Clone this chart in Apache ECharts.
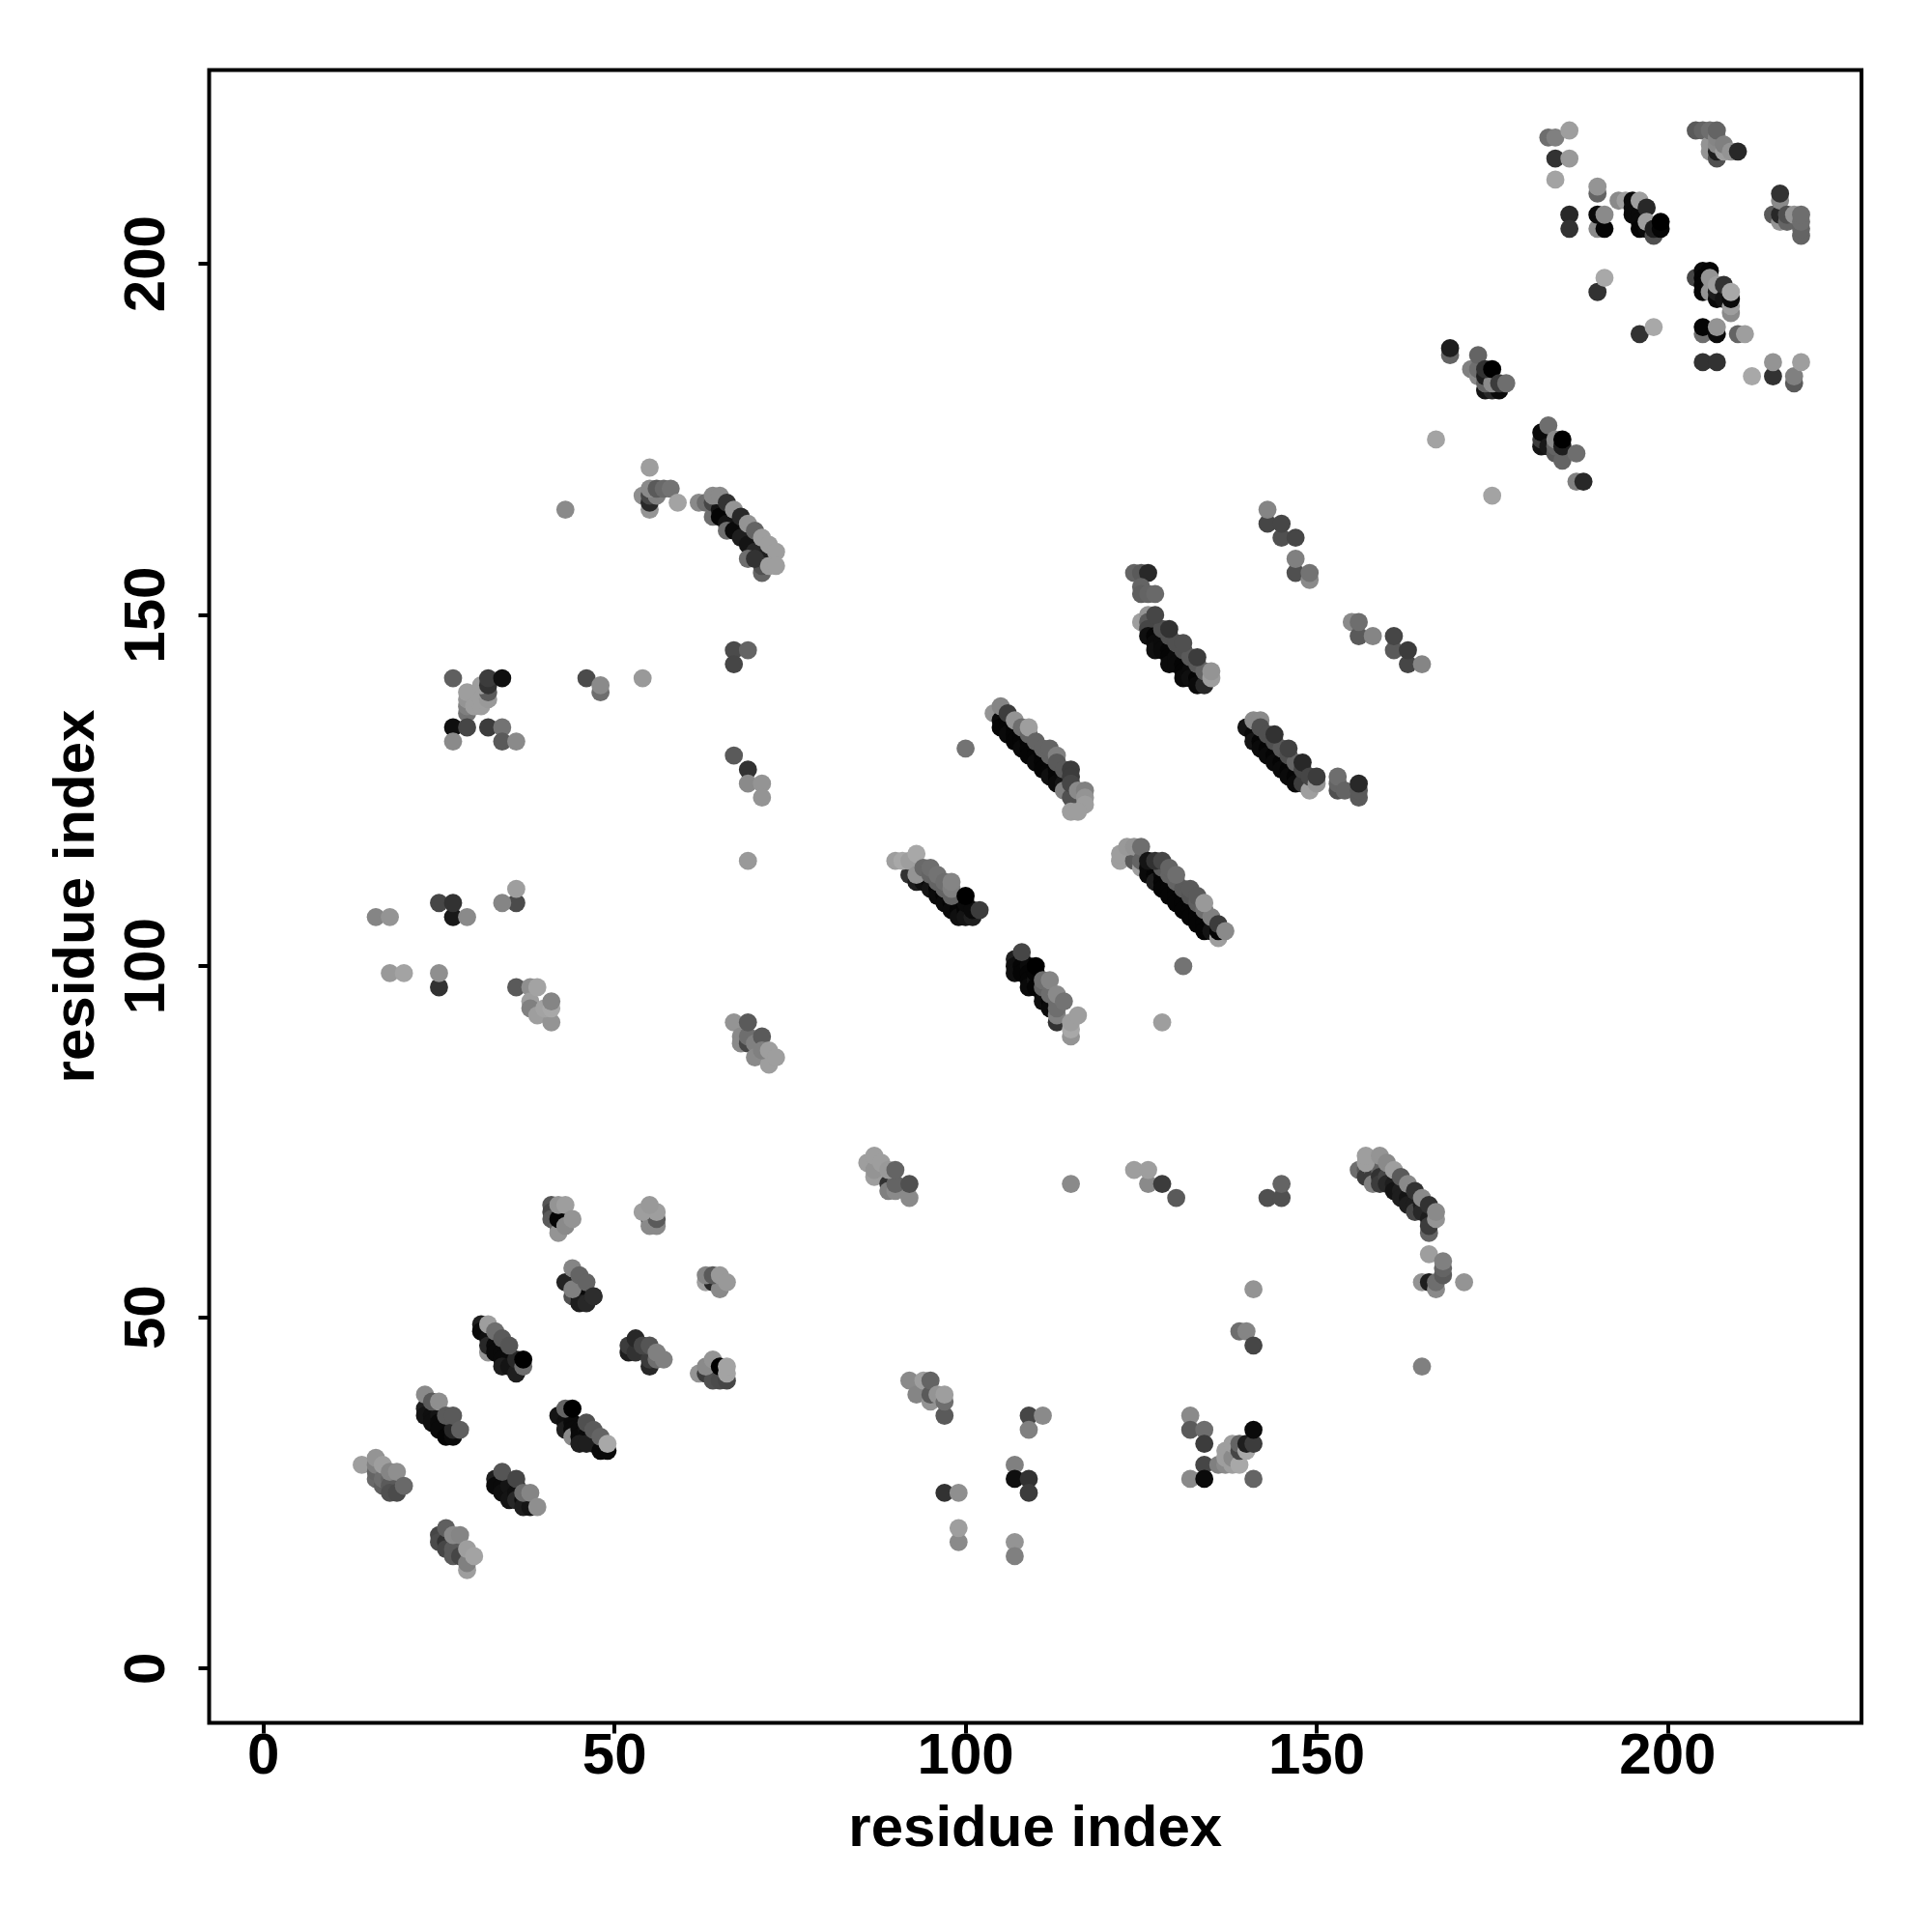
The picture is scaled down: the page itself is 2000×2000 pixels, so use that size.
<!DOCTYPE html>
<html><head><meta charset="utf-8">
<style>html,body{margin:0;padding:0;background:#fff}#c{width:2000px;height:2000px}</style>
<script src="https://cdn.jsdelivr.net/npm/echarts@6/dist/echarts.min.js"></script>
</head><body><div id="c"></div>
<script>
// each entry: [residue i, residue j, grey level]
const blockA=[[14,29,150],[16,27,105],[16,28,100],[16,29,120],[17,26,95],[17,27,110],[18,27,100],[18,26,90],[18,25,80],[19,25,75],[16,30,140],[17,29,150],[18,28,125],[19,28,135],[20,26,105]];
const blockB=[[25,19,70],[25,18,75],[26,18,50],[26,17,70],[27,17,90],[27,16,90],[28,16,70],[29,14,150],[29,15,120],[26,20,95],[27,19,130],[28,19,125],[29,17,150],[30,16,155]];
const blockC=[[23,37,30],[23,36,20],[24,36,15],[24,35,15],[25,36,20],[25,35,10],[26,35,15],[26,34,10],[25,34,10],[26,33,5],[27,33,10],[27,34,40],[23,39,130],[24,38,90],[25,38,135],[26,36,90],[27,36,90],[28,34,95]];
const blockD=[[31,49,30],[31,48,10],[32,47,15],[32,45,140],[32,46,40],[33,46,10],[33,45,10],[34,45,10],[34,44,10],[35,44,10],[34,43,30],[35,43,20],[36,42,30],[36,44,40],[37,43,110],[32,49,150],[33,48,110],[34,47,90],[35,46,85],[37,44,0]];
const blockE=[[42,36,20],[43,35,15],[43,34,30],[44,35,10],[44,34,10],[44,33,130],[45,34,10],[45,33,10],[46,34,15],[46,33,10],[47,33,10],[47,32,15],[45,32,30],[46,32,30],[48,31,10],[49,31,10],[43,37,100],[44,37,0],[46,35,80],[47,34,90],[48,33,100],[49,32,160]];
const blockF=[[33,27,30],[33,26,10],[34,26,10],[34,25,15],[35,25,15],[35,26,20],[36,26,20],[35,24,20],[36,25,15],[36,24,40],[37,24,15],[37,23,30],[38,23,20],[34,28,85],[36,27,70],[37,25,110],[38,25,125],[39,23,135]];
const blockG=[[43,55,35],[44,53,80],[45,53,10],[45,52,30],[46,52,40],[47,53,45],[44,54,120],[44,57,125],[45,56,100],[46,55,100],[47,53,45]];
const blockH=[[41,66,85],[41,65,70],[41,64,90],[42,63,100],[42,62,140],[42,64,5],[43,63,130],[42,66,140],[43,66,150],[44,64,140]];
const blockI=[[55,64,50],[55,63,130],[56,63,130],[56,64,90],[54,65,150],[56,65,150],[55,66,145]];
const blockJ=[[63,55,150],[64,55,40],[65,54,130],[63,56,125],[64,56,90],[65,56,145],[66,55,145]];
const blockK=[[52,45,30],[52,46,60],[53,45,50],[53,47,40],[55,43,40],[55,44,60],[54,46,70],[55,46,85],[56,44,110],[56,45,120],[57,44,120]];
const blockL=[[62,42,140],[63,42,60],[64,41,80],[65,41,75],[66,41,70],[63,43,130],[64,44,140],[65,43,0],[66,42,155],[66,43,155]];
const blockM=[[43,165,130],[55,171,150],[54,167,135],[55,165,140],[55,166,40],[55,167,70],[56,167,120],[55,168,130],[56,168,90],[57,168,105],[58,168,115],[59,166,155]];
const blockN=[[62,166,130],[63,166,110],[64,164,110],[64,166,70],[65,165,20],[65,164,5],[66,163,20],[66,162,110],[67,162,10],[68,161,30],[69,160,20],[70,159,40],[71,158,30],[71,156,100],[71,157,80],[69,158,110],[70,158,50],[64,167,130],[65,167,130],[66,166,50],[67,165,140],[68,164,40],[69,163,140],[70,162,100],[71,161,150],[72,160,150],[73,159,150],[72,157,150],[73,157,150]];
const blockO=[[67,145,75],[69,145,100],[67,143,70],[67,130,90],[69,128,50],[69,126,130],[71,126,140],[71,124,140],[69,115,145]];
const blockP=[[27,141,95],[29,136,115],[29,137,120],[30,138,50],[29,138,140],[29,139,150],[30,137,150],[31,137,150],[31,138,150],[32,138,145],[32,139,90],[31,140,150],[32,140,50],[32,141,60],[34,141,15],[27,134,15],[29,134,70],[32,134,60],[34,134,115],[27,132,130],[34,132,90],[36,132,130]];
const blockQ=[[46,141,75],[48,139,110],[48,140,130],[54,141,145],[36,109,75],[36,111,150],[34,109,125],[25,109,70],[27,107,25],[27,109,50],[29,107,130],[16,107,125],[18,107,140],[18,99,145],[20,99,155],[25,97,50],[25,99,135]];
const blockR=[[36,97,90],[38,97,135],[38,95,150],[38,94,120],[39,93,150],[41,92,140],[40,94,155],[41,94,160],[39,97,155],[41,95,125]];
const blockS=[[67,92,140],[68,90,130],[68,89,130],[69,89,70],[69,90,110],[70,89,120],[70,87,130],[69,92,90],[71,90,90],[72,86,150],[71,88,120],[72,88,150],[73,87,150]];
const blockT=[[92,113,50],[93,114,60],[93,112,30],[94,113,40],[94,112,15],[95,112,10],[95,111,20],[96,111,5],[96,110,10],[97,110,5],[97,109,10],[98,109,5],[98,108,10],[99,108,5],[99,109,5],[99,107,15],[100,108,5],[100,107,20],[100,109,10],[101,107,30],[101,108,10],[90,115,150],[91,115,160],[92,115,150],[93,113,140],[93,116,160],[94,114,105],[95,113,100],[96,112,100],[97,111,100],[98,110,100],[95,114,110],[96,113,115],[97,112,110],[98,111,120],[98,112,125],[100,110,0],[102,108,60]];
const blockU=[[107,101,30],[107,100,15],[107,99,15],[108,101,15],[108,100,5],[108,99,5],[109,100,10],[109,99,5],[109,98,5],[109,97,10],[110,98,20],[110,97,5],[110,99,5],[111,97,5],[111,96,5],[111,95,15],[112,96,5],[112,95,5],[112,94,10],[113,95,10],[113,92,50],[108,102,70],[110,100,0],[111,97,100],[112,96,110],[113,95,110],[111,98,110],[112,98,125],[113,93,120],[113,94,110],[113,96,130],[114,95,115],[115,90,140],[115,91,160],[115,92,150],[116,93,150]];
const blockV=[[122,115,150],[122,116,150],[124,115,90],[125,114,150],[123,117,145],[124,117,140],[125,115,100],[125,117,110],[126,114,10],[126,113,10],[127,113,5],[127,112,30],[128,113,10],[128,112,5],[128,111,5],[129,112,5],[129,111,5],[129,110,5],[130,111,5],[130,110,5],[130,109,5],[131,110,5],[131,109,5],[131,108,5],[132,109,5],[132,108,5],[132,107,5],[133,108,5],[133,107,5],[133,106,5],[134,107,5],[134,106,5],[134,105,5],[135,106,5],[135,105,20],[136,104,150],[136,105,5],[128,114,90],[129,113,100],[130,112,100],[131,111,90],[132,110,85],[133,109,95],[134,108,110],[135,107,120],[126,115,20],[127,115,50],[128,115,70],[129,114,100],[130,113,110],[132,111,90],[133,110,90],[134,109,145],[136,106,60],[137,105,130],[131,100,115],[128,92,150]];
const blockW=[[100,131,115],[104,136,140],[105,135,10],[105,134,5],[106,135,5],[106,134,5],[106,133,10],[107,134,5],[107,133,5],[107,132,5],[108,133,5],[108,132,5],[108,131,10],[109,132,5],[109,131,5],[109,130,5],[110,131,5],[110,130,5],[110,129,10],[111,130,5],[111,129,5],[111,128,5],[112,129,5],[112,128,5],[112,127,15],[113,128,5],[113,127,5],[113,126,10],[114,127,10],[114,126,20],[114,125,120],[115,124,80],[105,137,125],[106,136,60],[107,135,140],[108,134,110],[109,133,100],[109,134,150],[110,132,100],[111,131,100],[112,130,100],[112,131,100],[113,130,120],[113,129,90],[114,128,90],[115,128,60],[115,127,60],[115,126,70],[116,125,130],[117,125,120],[117,124,140],[117,123,150],[115,122,150],[116,122,150]];
const blockX=[[124,156,100],[125,156,90],[126,156,40],[125,154,100],[125,153,95],[126,153,100],[127,153,105],[125,149,150],[126,150,140],[126,149,90],[126,148,70],[126,147,15],[127,147,5],[127,146,10],[127,145,15],[128,146,10],[128,145,10],[129,145,5],[129,144,5],[129,143,10],[130,144,10],[130,143,10],[131,143,5],[131,142,5],[131,141,10],[132,142,10],[132,141,15],[133,141,5],[133,140,10],[134,140,40],[128,148,80],[129,147,80],[130,146,80],[131,145,80],[132,144,90],[133,143,90],[134,142,100],[127,150,70],[129,148,50],[131,146,80],[133,144,60],[135,141,150],[135,142,140]];
const blockY=[[140,134,20],[141,133,10],[141,132,20],[142,132,5],[142,131,10],[143,131,5],[143,130,10],[144,130,5],[144,129,10],[145,129,5],[145,128,10],[146,128,5],[146,127,10],[147,127,5],[147,126,10],[148,126,60],[149,125,150],[141,135,130],[142,135,130],[142,134,80],[143,133,80],[144,132,80],[145,131,90],[146,130,80],[147,129,100],[148,128,70],[144,133,50],[146,131,65],[148,129,40],[149,127,70],[150,126,140],[150,127,60]];
const blockZ=[[153,125,80],[153,126,100],[153,127,110],[154,125,100],[156,124,90],[156,125,90],[156,126,40],[143,163,70],[143,165,125],[145,161,80],[145,163,70],[147,161,70],[147,156,80],[147,158,120],[149,155,130],[149,156,115],[155,149,130],[156,147,90],[156,149,110],[158,147,125],[161,145,90],[161,147,70],[163,143,70],[163,145,60],[165,143,125]];
const blockTR1=[[167,175,155],[175,167,155],[169,187,100],[169,188,30],[172,185,120],[173,184,130],[173,185,110],[173,187,100],[174,182,20],[175,182,40],[176,182,10],[174,183,100],[174,184,30],[175,183,130],[174,185,50],[175,185,0],[176,183,60],[177,183,110]];
const blockTR2=[[182,174,20],[182,175,60],[182,176,10],[183,174,25],[183,177,110],[184,173,90],[184,174,100],[184,175,130],[185,172,100],[185,174,30],[185,175,0],[187,173,110],[187,169,120],[188,169,40]];
const blockTR3=[[183,218,110],[184,218,120],[186,219,150],[184,215,50],[186,215,145],[184,212,155],[190,210,100],[190,211,140],[186,207,40],[186,205,50],[190,205,130],[191,205,5],[190,207,10],[191,207,130],[193,209,130],[194,209,150]];
const blockTR4=[[195,209,10],[195,208,10],[195,207,10],[196,207,10],[196,206,10],[196,205,5],[197,205,10],[196,209,150],[197,208,40],[197,206,150],[198,204,80],[198,205,30],[199,205,5],[199,206,0],[190,196,50],[191,198,160],[196,190,50],[198,191,160]];
const blockTR5=[[204,219,90],[205,219,100],[206,216,140],[206,217,140],[207,215,80],[207,216,30],[207,217,130],[206,219,110],[207,218,125],[207,219,100],[208,216,150],[208,217,120],[209,216,140],[210,216,40]];
const blockTR6=[[215,207,90],[216,206,140],[216,207,40],[216,209,130],[216,210,50],[217,206,100],[217,207,80],[218,207,140],[219,204,100],[219,205,100],[219,206,110],[219,207,110]];
const blockTR7=[[204,198,70],[205,199,10],[205,198,5],[205,197,5],[205,196,5],[206,199,5],[206,197,10],[206,196,140],[206,198,140],[207,195,10],[207,196,30],[207,197,150],[208,195,20],[208,197,50],[209,193,130],[209,194,150],[209,195,10],[209,196,160],[205,190,110],[205,191,5],[207,190,10],[207,191,140],[210,190,100],[211,190,150],[205,186,50],[207,186,50],[212,184,160],[215,184,50],[215,186,140],[218,183,90],[218,184,120],[219,186,150]];
const blockLow1=[[86,72,150],[87,70,150],[87,71,140],[89,69,50],[89,68,120],[90,68,130],[90,69,100],[87,73,150],[88,72,150],[89,71,145],[90,71,100],[92,67,130],[92,69,80],[115,69,130],[126,69,130],[124,71,150],[126,71,150],[128,69,60],[130,67,90],[143,67,80],[145,67,80],[145,69,100]];
const blockLow2=[[156,71,110],[157,71,90],[157,70,60],[158,71,110],[158,70,60],[158,69,120],[159,71,100],[159,70,50],[159,69,60],[160,70,70],[160,69,40],[161,69,30],[161,68,20],[162,68,30],[162,67,30],[163,67,20],[163,66,30],[164,66,30],[164,65,70],[165,66,30],[165,65,40],[166,64,30],[166,62,100],[166,63,60],[157,72,150],[157,73,150],[159,73,140],[160,72,130],[161,71,150],[162,70,90],[163,69,130],[164,68,50],[165,67,130],[166,66,50],[167,64,140],[167,65,130]];
const blockLow3=[[166,59,150],[165,55,140],[166,55,30],[167,54,130],[167,55,110],[168,56,90],[168,57,100],[168,58,120],[171,55,140],[141,54,140],[139,48,110],[140,48,125],[141,46,70],[165,43,120]];
const blockLow4=[[92,41,130],[93,39,125],[94,41,150],[95,38,140],[95,39,90],[95,41,100],[96,39,140],[97,36,90],[97,38,110],[97,39,150],[109,36,70],[111,36,130],[109,34,120],[107,29,120],[107,27,15],[109,27,50],[109,25,60],[97,25,50],[99,25,135],[99,18,130],[99,20,150],[107,18,140],[107,16,120]];
const blockLow5=[[132,36,130],[132,34,90],[134,34,110],[134,32,60],[134,29,70],[136,29,120],[137,29,130],[137,30,150],[137,31,150],[138,29,150],[138,30,130],[138,32,150],[139,29,160],[139,31,70],[139,32,100],[140,31,160],[140,32,30],[141,32,60],[141,34,10],[132,27,130],[134,27,10],[141,27,100]];
const contactBlocks=[blockA,blockB,blockC,blockD,blockE,blockF,blockG,blockH,blockI,blockJ,blockK,blockL,blockM,blockN,blockO,blockP,blockQ,blockR,blockS,blockT,blockU,blockV,blockW,blockX,blockY,blockZ,blockTR1,blockTR2,blockTR3,blockTR4,blockTR5,blockTR6,blockTR7,blockLow1,blockLow2,blockLow3,blockLow4,blockLow5];
const tickLabels=[0,50,100,150,200];
const axisTitle='residue index';

const shade=g=>g>=120?g+8:g;
const points=contactBlocks.flat().map(p=>({value:[p[0],p[1]],itemStyle:{color:`rgb(${shade(p[2])},${shade(p[2])},${shade(p[2])})`}}));
const font='"Liberation Sans", Arial, sans-serif';
const axisCommon={
  type:'value',min:-7.74,max:227.6,
  name:axisTitle,nameLocation:'middle',
  nameTextStyle:{fontFamily:font,fontWeight:'bold',fontSize:60,color:'#000'},
  axisLine:{show:false,onZero:false},splitLine:{show:false},
  axisTick:{show:true,inside:false,length:11,lineStyle:{color:'#000',width:4},customValues:tickLabels},
  axisLabel:{show:true,fontFamily:font,fontWeight:'bold',fontSize:60,color:'#000',customValues:tickLabels}
};
const chart=echarts.init(document.getElementById('c'),null,{renderer:'canvas',width:2000,height:2000});
chart.setOption({
  animation:false,backgroundColor:'#fff',
  grid:{show:true,left:216.5,top:72.5,width:1710.5,height:1711,borderColor:'#000',borderWidth:4,backgroundColor:'transparent'},
  xAxis:Object.assign({},axisCommon,{nameGap:81,axisLabel:Object.assign({},axisCommon.axisLabel,{margin:6})}),
  yAxis:Object.assign({},axisCommon,{nameGap:106,axisLabel:Object.assign({},axisCommon.axisLabel,{rotate:90,margin:33})}),
  series:[{type:'scatter',symbol:'circle',symbolSize:18.8,data:points,progressive:0,large:false,clip:false,itemStyle:{opacity:1},emphasis:{disabled:true}}]
});
</script></body></html>
